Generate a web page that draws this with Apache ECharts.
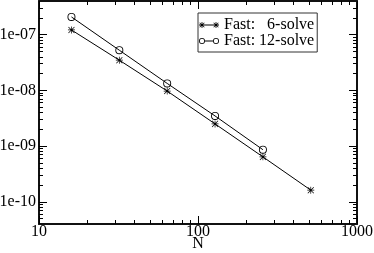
<!DOCTYPE html>
<html>
<head>
<meta charset="utf-8">
<script src="https://cdn.jsdelivr.net/npm/echarts@6/dist/echarts.min.js"></script>
<style>html,body{margin:0;padding:0;background:#fff}#c{width:374px;height:253px}</style>
</head>
<body>
<div id="c"></div>
<script>
// ---- data ----
const nSix = [16, 32, 64, 128, 256, 512];
const errSix = [1.21e-7, 3.47e-8, 9.7e-9, 2.5e-9, 6.4e-10, 1.62e-10];
const nTwelve = [16, 32, 64, 128, 256];
const errTwelve = [2.07e-7, 5.24e-8, 1.33e-8, 3.47e-9, 8.6e-10];
const seriesNames = ['Fast:   6-solve', 'Fast: 12-solve'];
const xMajorTicks = [10, 100, 1000];
const yMajorTicks = [1e-10, 1e-9, 1e-8, 1e-7];
const xMinorTicks = [20, 30, 40, 50, 60, 70, 80, 90, 200, 300, 400, 500, 600, 700, 800, 900];
const yMinorTicks = [5e-11, 6e-11, 7e-11, 8e-11, 9e-11,
  2e-10, 3e-10, 4e-10, 5e-10, 6e-10, 7e-10, 8e-10, 9e-10,
  2e-9, 3e-9, 4e-9, 5e-9, 6e-9, 7e-9, 8e-9, 9e-9,
  2e-8, 3e-8, 4e-8, 5e-8, 6e-8, 7e-8, 8e-8, 9e-8,
  2e-7, 3e-7];
const xRange = [10, 1000];
const yRange = [4e-11, 4e-7];

// ---- styling ----
const FONT = 'Liberation Serif';
const asterisk = 'path://M0 4.5H10V5.5H0Z M4.5 0H5.5V10H4.5Z M1.06 0.35L9.65 8.94L8.94 9.65L0.35 1.06Z M8.94 0.35L9.65 1.06L1.06 9.65L0.35 8.94Z';
const ring = 'path://M0 5A5 5 0 1 0 10 5A5 5 0 1 0 0 5Z M1.1 5A3.9 3.9 0 1 1 8.9 5A3.9 3.9 0 1 1 1.1 5Z';
const iconSix = 'path://M3 2.5H17V3.5H3Z ' +
  'M0 2.6H6V3.4H0Z M2.6 0H3.4V6H2.6Z M0.9 0.4L5.6 5.1L5.1 5.6L0.4 0.9Z M5.1 0.4L5.6 0.9L0.9 5.6L0.4 5.1Z ' +
  'M14 2.6H20V3.4H14Z M16.6 0H17.4V6H16.6Z M14.9 0.4L19.6 5.1L19.1 5.6L14.4 0.9Z M19.1 0.4L19.6 0.9L14.9 5.6L14.4 5.1Z';
const iconTwelve = 'path://M6 2.5H14V3.5H6Z ' +
  'M0 3A3 3 0 1 0 6 3A3 3 0 1 0 0 3Z M0.8 3A2.2 2.2 0 1 1 5.2 3A2.2 2.2 0 1 1 0.8 3Z ' +
  'M14 3A3 3 0 1 0 20 3A3 3 0 1 0 14 3Z M14.8 3A2.2 2.2 0 1 1 19.2 3A2.2 2.2 0 1 1 14.8 3Z';

function yFmt(v) {
  const e = Math.round(Math.log10(v));
  const s = String(Math.abs(e)).padStart(2, '0');
  return '1e' + (e < 0 ? '-' : '+') + s;
}
function xFmt(v) { return String(Math.round(v)); }

const lineCol = '#111';
function mkX(pos, major, showLabel) {
  return {
    type: 'log', logBase: 10, min: xRange[0], max: xRange[1], position: pos,
    axisLine: { show: major, lineStyle: { color: lineCol, width: 2 } },
    axisTick: { show: true, inside: true, length: major ? 8 : 4,
      customValues: major ? xMajorTicks : xMinorTicks, lineStyle: { color: '#000', width: 1 } },
    axisLabel: { show: showLabel, customValues: xMajorTicks, margin: 0, color: '#000',
      fontFamily: FONT, fontSize: 16, formatter: xFmt },
    splitLine: { show: false },
    name: showLabel ? 'N' : '', nameLocation: 'middle', nameGap: 12, nameMoveOverlap: false,
    nameTextStyle: { fontFamily: FONT, fontSize: 16, color: '#000' }
  };
}
function mkY(pos, major, showLabel) {
  return {
    type: 'log', logBase: 10, min: yRange[0], max: yRange[1], position: pos,
    axisLine: { show: major, lineStyle: { color: lineCol, width: 2 } },
    axisTick: { show: true, inside: true, length: major ? 8 : 4,
      customValues: major ? yMajorTicks : yMinorTicks, lineStyle: { color: '#000', width: 1 } },
    axisLabel: { show: showLabel, customValues: yMajorTicks, margin: 3, color: '#000',
      fontFamily: FONT, fontSize: 16, formatter: yFmt },
    splitLine: { show: false }
  };
}

const chart = echarts.init(document.getElementById('c'), null, { renderer: 'canvas' });
chart.setOption({
  animation: false,
  backgroundColor: '#fff',
  grid: { left: 39, right: 17, top: 1, bottom: 29, containLabel: false, outerBoundsMode: 'none' },
  xAxis: [mkX('bottom', true, true), mkX('bottom', false, false), mkX('top', true, false), mkX('top', false, false)],
  yAxis: [mkY('left', true, true), mkY('left', false, false), mkY('right', true, false), mkY('right', false, false)],
  legend: {
    orient: 'vertical', left: 198, top: 13,
    padding: [4, 3, 3, 1], itemGap: 0, itemWidth: 20, itemHeight: 6,
    borderColor: '#333', borderWidth: 1, backgroundColor: '#fff',
    textStyle: { fontFamily: FONT, fontSize: 16, color: '#000', lineHeight: 16 },
    data: [{ name: seriesNames[0], icon: iconSix }, { name: seriesNames[1], icon: iconTwelve }]
  },
  series: [
    {
      name: seriesNames[0], type: 'line', xAxisIndex: 0, yAxisIndex: 0,
      data: nSix.map((n, i) => [n, errSix[i]]),
      symbol: asterisk, symbolSize: 7,
      lineStyle: { color: '#000', width: 1 }, itemStyle: { color: '#000' }
    },
    {
      name: seriesNames[1], type: 'line', xAxisIndex: 0, yAxisIndex: 0,
      data: nTwelve.map((n, i) => [n, errTwelve[i]]),
      symbol: ring, symbolSize: 8,
      lineStyle: { color: '#000', width: 1 }, itemStyle: { color: '#000' }
    }
  ]
});
</script>
</body>
</html>
